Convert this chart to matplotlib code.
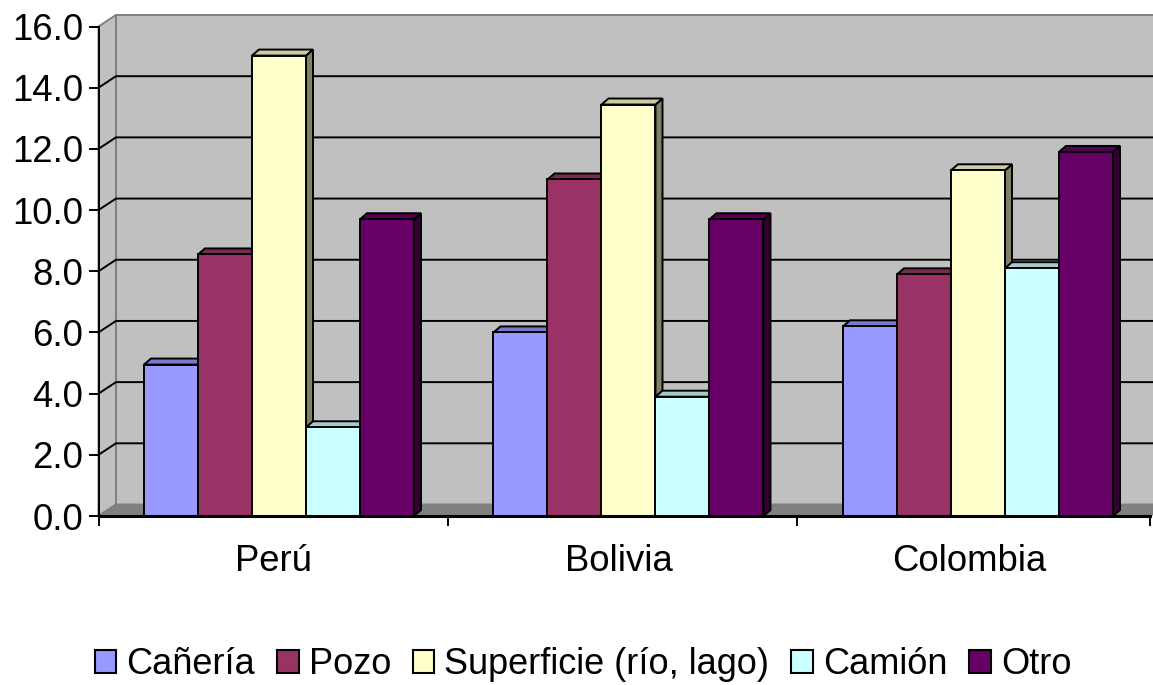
import numpy as np
import matplotlib
matplotlib.use("Agg")
import matplotlib.pyplot as plt
from matplotlib.patches import Patch, Polygon
from matplotlib.colors import to_rgb

plt.rcParams['font.family'] = ['Liberation Sans', 'DejaVu Sans']

# values
paises = ["Perú", "Bolivia", "Colombia"]
series = ["Cañería", "Pozo", "Superficie (río, lago)", "Camión", "Otro"]
caneria = [4.95, 6.0, 6.2]
pozo = [8.55, 11.0, 7.9]
superficie = [15.05, 13.45, 11.3]
camion = [2.9, 3.9, 8.1]
otro = [9.7, 9.7, 11.9]
colores = ["#9999FF", "#993366", "#FFFFCC", "#CCFFFF", "#660066"]
yticks = [0, 2, 4, 6, 8, 10, 12, 14, 16]

W, H = 1153, 685
left, right, bottom, top = 98.5, 1150, 516, 26.5
cat_px = 349.5
xmax = (right - left) / cat_px

fig = plt.figure(figsize=(W / 100, H / 100), dpi=100)
ax = fig.add_axes([left / W, 1 - bottom / H, (right - left) / W, (bottom - top) / H])
ax.set_xlim(0, xmax)
ax.set_ylim(0, 16)

# px to data units
px_x = 1 / cat_px
px_y = 16 / (bottom - top)
wall_dx, wall_dy = 17.5 * px_x, 11.5 * px_y
bar_dx, bar_dy = 7 * px_x, 6 * px_y
lw = 1.4
gris = "#808080"

# walls and floor
ax.add_patch(Polygon([(wall_dx, wall_dy), (xmax + wall_dx, wall_dy), (xmax + wall_dx, 16 + wall_dy), (wall_dx, 16 + wall_dy)],
                     fc="#C0C0C0", ec=gris, lw=lw, clip_on=False, zorder=1))
ax.add_patch(Polygon([(0, 0), (wall_dx, wall_dy), (wall_dx, 16 + wall_dy), (0, 16)],
                     fc="#C0C0C0", ec=gris, lw=lw, clip_on=False, zorder=1))
ax.add_patch(Polygon([(0, 0), (xmax, 0), (xmax + wall_dx, wall_dy), (wall_dx, wall_dy)],
                     fc=gris, ec=gris, lw=lw, clip_on=False, zorder=1))

# gridlines on the walls, the top one stays grey
for t in yticks[1:-1]:
    ax.plot([0, wall_dx, xmax + wall_dx], [t, t + wall_dy, t + wall_dy], color="black", lw=lw,
            clip_on=False, zorder=2, solid_joinstyle="miter")

# bars with their fake depth
ancho = 54 * px_x
inicio = 45.5 * px_x
valores = [caneria, pozo, superficie, camion, otro]
for g in range(len(paises)):
    for s, vals in enumerate(valores):
        x0 = g + inicio + s * ancho
        x1 = x0 + ancho
        v = vals[g]
        z = 3 + g * 10 + s
        rgb = np.array(to_rgb(colores[s]))
        ax.add_patch(Polygon([(x1, 0), (x1 + bar_dx, bar_dy), (x1 + bar_dx, v + bar_dy), (x1, v)],
                             fc=rgb * 0.5, ec="black", lw=lw, clip_on=False, zorder=z, joinstyle="miter"))
        ax.add_patch(Polygon([(x0, v), (x1, v), (x1 + bar_dx, v + bar_dy), (x0 + bar_dx, v + bar_dy)],
                             fc=rgb * 0.8, ec="black", lw=lw, clip_on=False, zorder=z, joinstyle="miter"))
        ax.bar(x0, v, width=ancho, align="edge", color=colores[s], edgecolor="black", linewidth=lw,
               clip_on=False, zorder=z + 0.5)

for side in ["top", "right"]:
    ax.spines[side].set_visible(False)
ax.spines["left"].set_linewidth(lw)
ax.spines["bottom"].set_linewidth(2.2)
ax.spines["left"].set_zorder(60)
ax.spines["bottom"].set_zorder(60)

ax.set_yticks(yticks)
ax.set_yticklabels(["%.1f" % t for t in yticks])
ax.tick_params(axis="y", length=7.2, width=lw, pad=4, labelsize=26.3)
ax.set_xticks([0, 1, 2, xmax])
ax.set_xticklabels([])
ax.tick_params(axis="x", which="major", length=7.2, width=lw)
ax.set_xticks([0.5, 1.49, 2.49], minor=True)
ax.set_xticklabels(paises, minor=True)
ax.tick_params(axis="x", which="minor", length=0, pad=20.5, labelsize=26.3)

handles = [Patch(facecolor=c, edgecolor="black", linewidth=1.5) for c in colores]
fig.legend(handles, series, ncol=5, loc="center", bbox_to_anchor=(583 / W, 1 - 665 / H), frameon=False,
           fontsize=26, handlelength=0.6, handleheight=0.6, handletextpad=0.28, columnspacing=0.6,
           borderpad=0, borderaxespad=0)

fig.savefig("out.png", dpi=100)
